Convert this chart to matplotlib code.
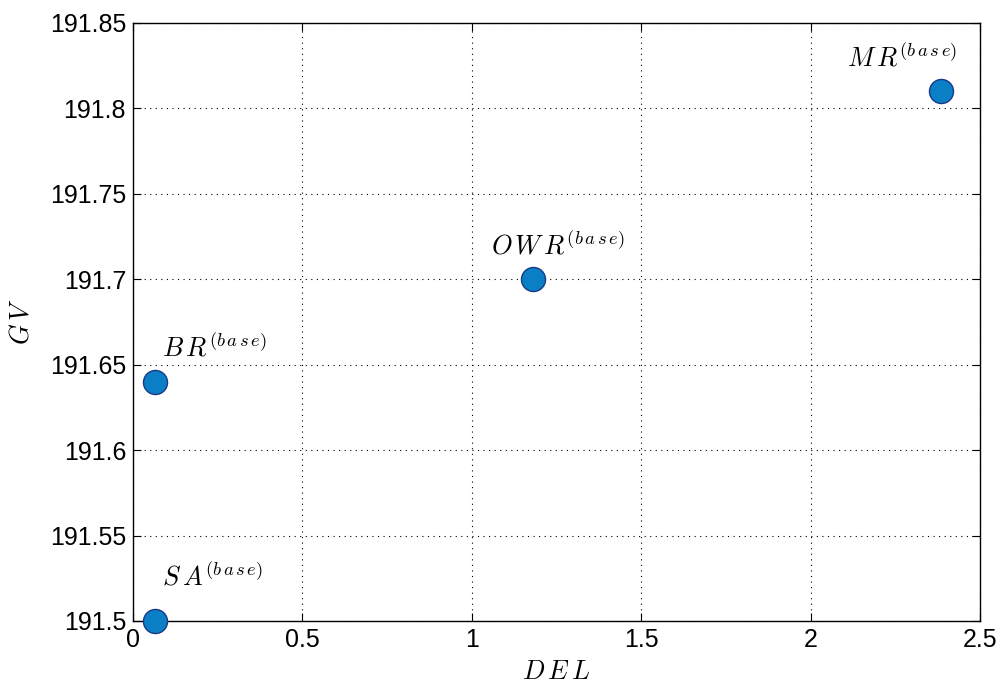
import matplotlib.pyplot as plt

# 数据
names = ['S\\,A', 'B\\,R', 'O\\,W\\,R', 'M\\,R']
del_vals = [0.065, 0.065, 1.18, 2.385]
gv_vals = [191.5, 191.64, 191.7, 191.81]
# 标注偏移（像素）
offsets = [(7, 30), (7, 20), (-42, 20), (-94, 20)]

plt.rcParams['font.family'] = ['Liberation Sans', 'DejaVu Sans']
plt.rcParams['mathtext.fontset'] = 'cm'

fig = plt.figure(figsize=(10.03, 6.88), dpi=100)
ax = fig.add_axes([133 / 1003, 1 - 621 / 688, 847 / 1003, 598 / 688])

ax.scatter(del_vals, gv_vals, s=300, c='#0a7fc6', edgecolors='#1a3a86',
           linewidths=1, zorder=3, clip_on=False)
for n, x, y, (dx, dy) in zip(names, del_vals, gv_vals, offsets):
    ax.annotate('$' + n + '^{(b\\,a\\,s\\,e)}$', (x, y), xytext=(dx, dy),
                textcoords='offset pixels', fontsize=19, ha='left', va='bottom')

ax.set_xlim(0, 2.5)
ax.set_ylim(191.5, 191.85)
ax.set_xticks([0, 0.5, 1, 1.5, 2, 2.5])
ax.set_xticklabels(['0', '0.5', '1', '1.5', '2', '2.5'])
ax.set_yticks([191.5, 191.55, 191.6, 191.65, 191.7, 191.75, 191.8, 191.85])
ax.set_yticklabels(['191.5', '191.55', '191.6', '191.65', '191.7', '191.75', '191.8', '191.85'])
ax.tick_params(direction='in', labelsize=18, length=6, top=True, right=True,
               labeltop=False, labelright=False, pad=5)
ax.grid(True, linestyle=(0, (1, 4)), color='black', linewidth=0.8)
for s in ax.spines.values():
    s.set_linewidth(1)

ax.set_xlabel('$D\\,E\\,L$', fontsize=19, labelpad=6)
ax.set_ylabel('$G\\,V$', fontsize=19, labelpad=12)

plt.savefig('out.png', dpi=100)
